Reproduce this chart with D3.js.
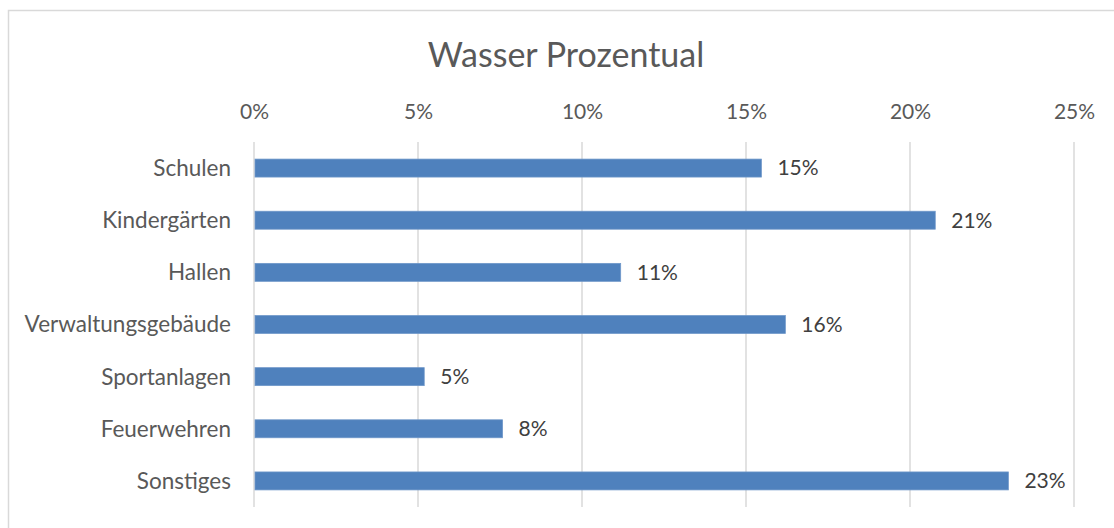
<!DOCTYPE html>
<html>
<head>
<meta charset="utf-8">
<script src="https://cdn.jsdelivr.net/npm/d3@7"></script>
<style>
  body { margin: 0; background: #fff; }
  svg { display: block; font-family: Lato, "Open Sans", sans-serif; }
</style>
</head>
<body>
<div id="chart"></div>
<script>
var categories = ['Schulen', 'Kindergärten', 'Hallen', 'Verwaltungsgebäude', 'Sportanlagen', 'Feuerwehren', 'Sonstiges'];
var values = [0.1547, 0.2077, 0.1118, 0.1620, 0.0519, 0.0758, 0.2300];
var ticks = [0, 0.05, 0.10, 0.15, 0.20, 0.25];
var title = 'Wasser Prozentual';

var width = 1114, height = 528;
var plotLeft = 254, plotRight = 1074, plotTop = 142, plotBottom = 507;

var svg = d3.select('#chart').append('svg').attr('width', width).attr('height', height);

// chart frame (only top and left edges visible)
svg.append('rect')
  .attr('x', 8.5).attr('y', 10.5)
  .attr('width', 1200).attr('height', 600)
  .attr('fill', 'none').attr('stroke', '#d9d9d9').attr('stroke-width', 1.5);

var x = d3.scaleLinear().domain([0, 0.25]).range([plotLeft, plotRight]);
var y = d3.scaleBand().domain(categories).range([plotTop, plotBottom])
  .paddingInner(0.655).paddingOuter(0.3275);

var pct = d3.format('.0%');

// gridlines
svg.append('g').selectAll('line')
  .data(ticks)
  .enter().append('line')
  .attr('x1', function(d){return x(d);}).attr('x2', function(d){return x(d);})
  .attr('y1', plotTop).attr('y2', plotBottom)
  .attr('stroke', '#d9d9d9').attr('stroke-width', 1.5);

// top axis labels
var xAxis = d3.axisTop(x).tickValues(ticks).tickFormat(pct).tickSize(0).tickPadding(0);
var ax = svg.append('g').attr('transform', 'translate(0,119)').call(xAxis)
  .attr('font-family', null).attr('font-size', null);
ax.select('.domain').remove();
ax.selectAll('text')
  .attr('y', 0).attr('dy', 0)
  .style('font-size', '21px').style('fill', '#595959');

// category labels
var yAxis = d3.axisLeft(y).tickSize(0).tickPadding(0);
var ay = svg.append('g').attr('transform', 'translate(231,0)').call(yAxis)
  .attr('font-family', null).attr('font-size', null);
ay.select('.domain').remove();
ay.selectAll('text')
  .attr('dy', '0.35em')
  .style('font-size', '22.5px').style('fill', '#595959');

// bars
svg.append('g').selectAll('rect')
  .data(values)
  .enter().append('rect')
  .attr('x', x(0) + 1)
  .attr('y', function(d, i){return y(categories[i]);})
  .attr('width', function(d){return x(d) - x(0) - 1;})
  .attr('height', y.bandwidth())
  .attr('fill', '#4f81bd')
  .attr('stroke', '#6f97c9').attr('stroke-width', 0.75);

// data labels
svg.append('g').selectAll('text')
  .data(values)
  .enter().append('text')
  .attr('x', function(d){return x(d) + 16;})
  .attr('y', function(d, i){return y(categories[i]) + y.bandwidth() / 2;})
  .attr('dy', '0.35em')
  .style('font-size', '21px').style('fill', '#404040')
  .text(function(d){return pct(d);});

// title
svg.append('text')
  .attr('x', 566).attr('y', 67)
  .attr('text-anchor', 'middle')
  .style('font-size', '34px').style('fill', '#595959')
  .text(title);
</script>
</body>
</html>
